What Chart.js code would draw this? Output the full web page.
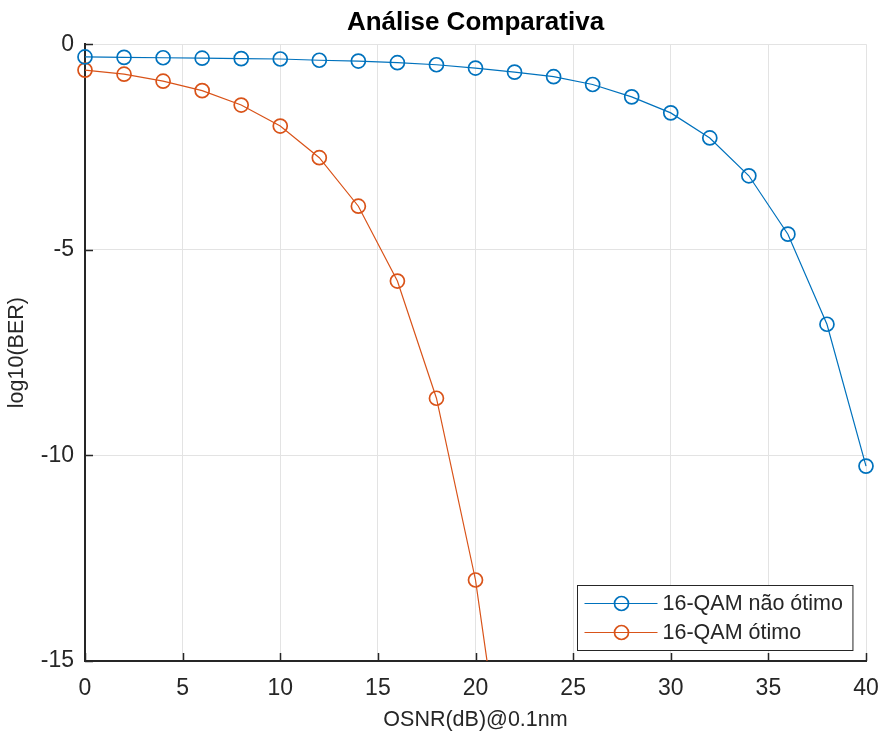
<!DOCTYPE html>
<html>
<head>
<meta charset="utf-8">
<title>Análise Comparativa</title>
<script src="https://cdn.jsdelivr.net/npm/chart.js@4/dist/chart.umd.min.js"></script>
<style>
  html, body { margin: 0; padding: 0; background: #fff; }
  canvas { display: block; }
</style>
</head>
<body>
<canvas id="ber" width="881" height="731"></canvas>
<script>
// OSNR sweep (dB) and log10(BER) for both receivers
const osnrNaoOtimo = [0, 2, 4, 6, 8, 10, 12, 14, 16, 18, 20, 22, 24, 26, 28, 30, 32, 34, 36, 38, 40];
const berNaoOtimo = [-0.31, -0.32, -0.33, -0.34, -0.35, -0.36, -0.39, -0.41, -0.45, -0.50, -0.58, -0.68, -0.79, -0.98, -1.28, -1.67, -2.28, -3.20, -4.62, -6.81, -10.26];
const osnrOtimo = [0, 2, 4, 6, 8, 10, 12, 14, 16, 18, 20, 22];
const berOtimo = [-0.63, -0.73, -0.90, -1.13, -1.48, -1.99, -2.76, -3.94, -5.76, -8.61, -13.03, -19.7];
const seriesNames = ["16-QAM não ótimo", "16-QAM ótimo"];
const xTicks = [0, 5, 10, 15, 20, 25, 30, 35, 40];
const yTicks = [-15, -10, -5, 0];

const BLUE = "#0072BD";
const ORANGE = "#D95319";
const AXIS = "#262626";
const FONT = "'Liberation Sans', Arial, Helvetica, sans-serif";

const toPoints = (xs, ys) => xs.map((x, i) => ({ x: x, y: ys[i] }));

// MATLAB-style inward tick marks on the left and bottom axes
const inwardTicks = {
  id: "inwardTicks",
  afterDraw(chart) {
    const { ctx, chartArea, scales } = chart;
    ctx.save();
    ctx.strokeStyle = AXIS;
    ctx.lineWidth = 1.5;
    ctx.beginPath();
    xTicks.forEach((v) => {
      const px = Math.round(scales.x.getPixelForValue(v)) + 0.5;
      ctx.moveTo(px, chartArea.bottom);
      ctx.lineTo(px, chartArea.bottom - 8);
    });
    yTicks.forEach((v) => {
      const py = Math.round(scales.y.getPixelForValue(v)) + 0.5;
      ctx.moveTo(chartArea.left, py);
      ctx.lineTo(chartArea.left + 8, py);
    });
    ctx.stroke();
    ctx.restore();
  },
};

// boxed legend in the lower-right corner of the plot
const boxLegend = {
  id: "boxLegend",
  afterDraw(chart) {
    const { ctx, chartArea } = chart;
    const sets = chart.data.datasets;
    ctx.save();
    ctx.font = "21.5px " + FONT;
    const textW = Math.max(...sets.map((d) => ctx.measureText(d.label).width));
    const rowH = 29;
    const w = 85 + textW + 10;
    const h = rowH * sets.length + 7;
    const x0 = Math.round(chartArea.right - 14 - w) + 0.5;
    const y0 = Math.round(chartArea.bottom - 11 - h) + 0.5;
    ctx.fillStyle = "#fff";
    ctx.fillRect(x0, y0, w, h);
    ctx.strokeStyle = AXIS;
    ctx.lineWidth = 1;
    ctx.strokeRect(x0, y0, w, h);
    sets.forEach((d, i) => {
      const cy = y0 + 18 + i * rowH;
      ctx.strokeStyle = d.borderColor;
      ctx.lineWidth = d.borderWidth;
      ctx.beginPath();
      ctx.moveTo(x0 + 7, cy);
      ctx.lineTo(x0 + 80, cy);
      ctx.stroke();
      ctx.lineWidth = d.pointBorderWidth;
      ctx.beginPath();
      ctx.arc(x0 + 44, cy, d.pointRadius, 0, Math.PI * 2);
      ctx.stroke();
      ctx.fillStyle = AXIS;
      ctx.textBaseline = "middle";
      ctx.fillText(d.label, x0 + 85, cy + 1);
    });
    ctx.restore();
  },
};

const lineStyle = (color) => ({
  borderColor: color,
  borderWidth: 1.2,
  pointStyle: "circle",
  pointRadius: 7,
  pointBorderWidth: 1.7,
  pointBorderColor: color,
  pointBackgroundColor: "rgba(0,0,0,0)",
  tension: 0,
  clip: { left: 12, top: 12, right: 12, bottom: 0 },
});

new Chart(document.getElementById("ber"), {
  type: "line",
  data: {
    datasets: [
      { label: seriesNames[0], data: toPoints(osnrNaoOtimo, berNaoOtimo), ...lineStyle(BLUE) },
      { label: seriesNames[1], data: toPoints(osnrOtimo, berOtimo), ...lineStyle(ORANGE) },
    ],
  },
  options: {
    responsive: false,
    animation: false,
    layout: { padding: { left: 0, right: 15, top: 0, bottom: 0 } },
    scales: {
      x: {
        type: "linear",
        min: 0,
        max: 40,
        afterFit: (scale) => {
          scale.height = 70;
          scale.paddingLeft = 0;
          scale.paddingRight = 0;
        },
        afterBuildTicks: (scale) => { scale.ticks = xTicks.map((v) => ({ value: v })); },
        grid: { color: "#e3e3e3", lineWidth: 1, drawTicks: false },
        border: { display: true, color: AXIS, width: 2 },
        ticks: { color: AXIS, padding: 14, font: { family: FONT, size: 23 }, maxRotation: 0 },
        title: {
          display: true,
          text: "OSNR(dB)@0.1nm",
          color: AXIS,
          font: { family: FONT, size: 21.5, lineHeight: 1 },
          padding: { top: 0, bottom: 0 },
        },
      },
      y: {
        type: "linear",
        min: -15,
        max: 0,
        afterFit: (scale) => { scale.width = 85; },
        afterBuildTicks: (scale) => { scale.ticks = yTicks.map((v) => ({ value: v })); },
        grid: { color: "#e3e3e3", lineWidth: 1, drawTicks: false },
        border: { display: true, color: AXIS, width: 2 },
        ticks: { color: AXIS, padding: 11, font: { family: FONT, size: 23 } },
        title: {
          display: true,
          text: "log10(BER)",
          color: AXIS,
          font: { family: FONT, size: 21.5 },
          padding: { top: 4, bottom: 0 },
        },
      },
    },
    plugins: {
      legend: { display: false },
      tooltip: { enabled: false },
      title: {
        display: true,
        fullSize: false,
        text: "Análise Comparativa",
        color: "#000",
        font: { family: FONT, size: 26, weight: "bold" },
        padding: { top: 7, bottom: 6 },
      },
    },
  },
  plugins: [inwardTicks, boxLegend],
});
</script>
</body>
</html>
